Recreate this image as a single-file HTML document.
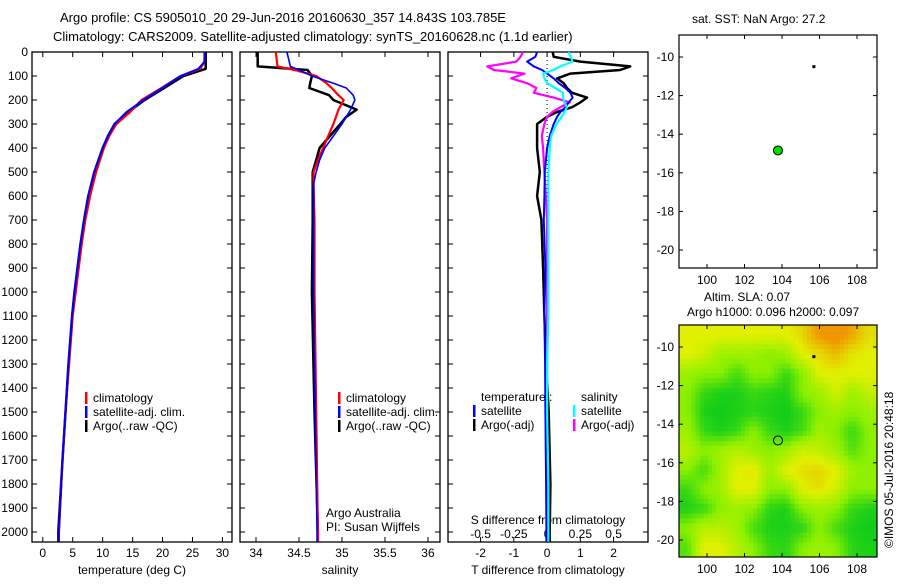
<!DOCTYPE html>
<html><head><meta charset="utf-8"><style>
body{margin:0;background:#fff;width:900px;height:580px;overflow:hidden}
svg text{font-family:"Liberation Sans",sans-serif;font-size:12px;fill:#000}
</style></head><body>
<svg id="c" width="900" height="580" xmlns="http://www.w3.org/2000/svg">
<text x="60" y="22" style="font-size:13px">Argo profile: CS 5905010_20 29-Jun-2016 20160630_357 14.843S 103.785E</text>
<text x="53" y="41" style="font-size:13px">Climatology: CARS2009. Satellite-adjusted climatology: synTS_20160628.nc (1.1d earlier)</text>
<text x="692" y="23">sat. SST: NaN Argo: 27.2</text>
<text x="704" y="301">Altim. SLA: 0.07</text>
<text x="687" y="316">Argo h1000: 0.096 h2000: 0.097</text>
<text transform="translate(893,548) rotate(-90)">©IMOS 05-Jul-2016 20:48:18</text>
</svg>
<script>
// ---- data ----
const depthTicks=[0,100,200,300,400,500,600,700,800,900,1000,1100,1200,1300,1400,1500,1600,1700,1800,1900,2000];
const tempTicks=[0,5,10,15,20,25,30];
const salTicks=[34,34.5,35,35.5,36];
const tdiffTicks=[-2,-1,0,1,2];
const sdiffTicks=[-0.5,-0.25,0,0.25,0.5];
const sdiffTickLabels=["-0.5","-0.25","0","0.25","0.5"];
const lonTicks=[100,102,104,106,108];
const latTicks=[-10,-12,-14,-16,-18,-20];
const tDepth=[0,40,70,100,150,200,250,300,350,400,500,600,700,800,900,1000,1100,1300,1500,1700,2000,2040];
const tArgo=[27.2,27.2,27.2,23.5,20.3,17.0,14.3,12.0,10.9,10.0,8.6,7.6,6.9,6.3,5.8,5.3,4.9,4.3,3.8,3.3,2.6,2.6];
const tClim=[27.0,27.0,26.3,23.0,19.8,16.5,14.6,12.3,11.1,10.2,8.9,7.9,7.1,6.5,6.0,5.5,5.0,4.4,3.8,3.3,2.7,2.7];
const tSat=[27.0,27.0,26.0,23.0,20.0,16.8,14.0,12.0,10.9,10.0,8.6,7.6,6.9,6.3,5.8,5.3,4.9,4.3,3.8,3.3,2.7,2.7];
const sDepth=[0,60,75,100,130,150,180,200,240,270,300,350,400,450,500,550,700,1000,1500,2000,2040];
const sArgo=[34.02,34.02,34.6,34.65,34.63,34.62,34.85,34.9,35.17,35.05,34.98,34.86,34.74,34.7,34.66,34.66,34.66,34.65,34.68,34.72,34.72];
const sClim=[34.23,34.25,34.45,34.7,34.82,34.88,34.96,35.02,34.96,34.93,34.9,34.84,34.78,34.72,34.67,34.67,34.68,34.68,34.7,34.72,34.72];
const sSat=[34.36,34.4,34.5,34.65,34.9,35.05,35.13,35.15,35.1,35.05,35.0,34.9,34.8,34.74,34.7,34.67,34.67,34.67,34.69,34.71,34.71];
const dDepth=[0,20,40,60,75,90,110,130,150,170,190,210,230,250,270,300,350,400,500,600,700,900,1100,1300,1500,1800,2000,2040];
const dTArgo=[0.17,0.2,1.0,2.5,2.2,0.7,0.3,0.5,0.6,0.75,1.2,1.0,0.75,0.3,0.0,-0.3,-0.3,-0.3,-0.22,-0.3,-0.17,-0.12,-0.08,-0.03,0.05,0.1,0.08,0.08];
const dTSat=[-0.3,-0.35,-0.6,-0.4,-0.15,0.0,0.2,0.35,0.55,0.7,0.77,0.65,0.55,0.4,0.3,0.2,0.08,0.0,-0.07,-0.08,-0.1,-0.05,-0.08,-0.06,-0.05,-0.03,-0.02,-0.02];
const dSSat=[0.16,0.18,0.19,0.1,0.05,-0.03,-0.02,0.0,0.06,0.12,0.12,0.13,0.15,0.13,0.11,0.07,0.03,0.02,0.01,0.01,0.01,0.01,0.01,0.0,0.0,0.01,0.01,0.01];
const dSArgo=[-0.18,-0.2,-0.23,-0.45,-0.4,-0.17,-0.27,-0.15,-0.08,-0.1,0.05,0.17,0.1,0.04,0.0,-0.02,-0.04,-0.03,-0.02,-0.01,0.0,0.0,0.0,0.0,0.0,0.0,0.0,0.0];
const floatLon=[103.785];
const floatLat=[-14.843];
const markLon=[105.7];
const markLat=[-10.5];
const slaGrid=[
[2,2,2,2,2,2,2,2.3,3,3.2,2.8,2.2],
[2,1.8,1.2,1.2,1.2,1,1.2,2,2.2,2.6,2.1,2],
[1.2,1,1,0.5,1,1,0.4,1,2,2,2,2],
[1,0.4,0.2,0.2,0.4,0.3,0.2,1,1.2,1.8,1.2,1.6],
[1,0.2,0.1,0.2,0.3,0.2,0.1,0.4,1,1.2,1,1.2],
[1.2,0.4,0.2,0.4,1,0.4,0.2,0.5,1.2,1,0.4,1],
[1.5,1,1.2,1.5,1.2,1,1.2,1.8,1.6,1.2,0.6,1],
[1,0.5,1.2,2,2.1,1.2,2,2.2,2.3,2,1.2,1],
[0.4,1,1.2,2,2,1,1,2,2.2,1.8,1,1],
[0.2,0.4,1,1.2,1,0.3,0.2,1,1.2,1,0.4,0.2],
[1,1.5,1.5,1.2,0.5,0.2,0.2,0.3,1,0.5,0.2,0.1],
[0.6,2,2,1.5,1,0.4,0.3,1,1.2,1,0.3,0.2]];

const NS="http://www.w3.org/2000/svg";
const svg=document.getElementById('c');
function mk(tag,attrs,parent){const e=document.createElementNS(NS,tag);for(const k in attrs)e.setAttribute(k,attrs[k]);(parent||svg).appendChild(e);return e;}
function txt(x,y,s,anchor,parent){const t=mk('text',{x:x,y:y,'text-anchor':anchor||'start'},parent);t.textContent=s;return t;}

const Y0=52,YPX=0.24;
const yD=d=>Y0+d*YPX;
const panels=[{x0:32,x1:232,v0:-1.8,v1:31.6,name:'temperature'},{x0:240,x1:440,v0:33.814,v1:36.14,name:'salinity'},{x0:448,x1:648,v0:-2.98,v1:3.035,name:'difference'}];
function xs(p,v){return p.x0+(v-p.v0)/(p.v1-p.v0)*(p.x1-p.x0);}
panels.forEach((p,i)=>{
  const g=mk('g',{});
  
  
  const r=mk('rect',{x:p.x0,y:Y0,width:p.x1-p.x0,height:490,fill:'none',stroke:'#000','stroke-width':1.3},g);
  
  
  depthTicks.forEach(d=>{
    mk('line',{x1:p.x0,x2:p.x0+5,y1:yD(d),y2:yD(d),stroke:'#000'},g);
    mk('line',{x1:p.x1,x2:p.x1-5,y1:yD(d),y2:yD(d),stroke:'#000'},g);
    if(i==0){const t=txt(28,yD(d)+4,String(d),'end',g);
      
      }
  });
});
function xticks(p,ticks,labels,ly,top){
  ticks.forEach((v,k)=>{const x=xs(p,v);
    mk('line',{x1:x,x2:x,y1:542,y2:537,stroke:'#000'});
    if(top) mk('line',{x1:x,x2:x,y1:52,y2:57,stroke:'#000'});
    const t=txt(x,ly,labels?labels[k]:String(v),'middle');
    
    });
}
xticks(panels[0],tempTicks,null,557,true);
xticks(panels[1],salTicks,null,557,true);
xticks(panels[2],tdiffTicks,null,557,false);
const x0d=xs(panels[2],0);
sdiffTicks.forEach((v,k)=>{const x=x0d+v*133;
  mk('line',{x1:x,x2:x,y1:52,y2:57,stroke:'#000'});
  const t=txt(x,538,sdiffTickLabels[k],'middle');
  
  });
let t;
t=txt(132,574,'temperature (deg C)','middle');
t=txt(340,574,'salinity','middle');
t=txt(548,574,'T difference from climatology','middle');
t=txt(548,524,'S difference from climatology','middle');
t=txt(326,517,'Argo Australia');
t=txt(326,531,'PI: Susan Wijffels');
const zl=mk('line',{x1:x0d,x2:x0d,y1:52,y2:542,stroke:'#000','stroke-dasharray':'1,3'});


function series(p,vals,depths,color,w,name,scale){
  const pts=vals.map((v,k)=>{const x=scale?x0d+v*scale:xs(p,v);return x.toFixed(1)+','+yD(depths[k]).toFixed(1);}).join(' ');
  const l=mk('polyline',{points:pts,fill:'none',stroke:color,'stroke-width':w,'stroke-linejoin':'round'});
  
  
}
series(panels[0],tArgo,tDepth,'#000',2.5,'temp-argo-line');
series(panels[0],tClim,tDepth,'#f00',2.2,'temp-clim-line');
series(panels[0],tSat,tDepth,'#00f',2,'temp-sat-line');
series(panels[1],sArgo,sDepth,'#000',2.5,'sal-argo-line');
series(panels[1],sClim,sDepth,'#f00',2.2,'sal-clim-line');
series(panels[1],sSat,sDepth,'#00f',1.6,'sal-sat-line');
series(panels[2],dTArgo,dDepth,'#000',2.5,'tdiff-argo-line');
series(panels[2],dSArgo,dDepth,'#f0f',2.2,'sdiff-argo-line',133);
series(panels[2],dTSat,dDepth,'#00f',2,'tdiff-sat-line');
series(panels[2],dSSat,dDepth,'#0ff',2.2,'sdiff-sat-line',133);

function legend(x,y,color,label,name){
  const g=mk('g',{});
  
  
  mk('rect',{x:x,y:y-10,width:2.5,height:12,fill:color},g);
  txt(x+8,y,label,'start',g);
}
[[32+53,0],[240+98,1]].forEach(([x,i])=>{
  legend(x,402,'#f00','climatology','legend-climatology');
  legend(x,416,'#00f','satellite-adj. clim.','legend-satellite-adj');
  legend(x,430,'#000','Argo(..raw -QC)','legend-argo');
});
t=txt(481,401,'temperature :');
t=txt(581,401,'salinity');
legend(473,415,'#00f','satellite','legend-t-satellite');
legend(473,429,'#000','Argo(-adj)','legend-t-argo');
legend(573,415,'#0ff','satellite','legend-s-satellite');
legend(573,429,'#f0f','Argo(-adj)','legend-s-argo');

const maps=[{y0:35,y1:268,name:'sst-map'},{y0:325,y1:557,name:'sla-map'}];
const MX0=679,MX1=877;
const lonX=v=>707+(v-100)*18.75;
maps.forEach((m,mi)=>{
  const latY=v=>m.y0+22+(-10-v)*19.3;
  const g=mk('g',{});
  
  
  if(mi==1){
    const rows=slaGrid.length,cols=slaGrid[0].length,S=4;
    const R=rows*S,C=cols*S,cw=(MX1-MX0)/C,ch=(m.y1-m.y0)/R;
    const stops=[[0,200,30],[140,240,0],[225,240,0],[240,150,0]];
    const col=v=>{v=Math.max(0,Math.min(2.999,v));const i=Math.floor(v),f=v-i;const a=stops[i],b=stops[i+1];return 'rgb('+a.map((c,k)=>Math.round(c+(b[k]-c)*f)).join(',')+')';};
    const samp=(r,c)=>{ // bilinear
      const fr=Math.max(0,Math.min(rows-1,(r+0.5)/S-0.5)),fc=Math.max(0,Math.min(cols-1,(c+0.5)/S-0.5));
      const r0=Math.floor(fr),c0=Math.floor(fc),r1=Math.min(rows-1,r0+1),c1=Math.min(cols-1,c0+1),a=fr-r0,b=fc-c0;
      return slaGrid[r0][c0]*(1-a)*(1-b)+slaGrid[r0][c1]*(1-a)*b+slaGrid[r1][c0]*a*(1-b)+slaGrid[r1][c1]*a*b;};
    for(let r=0;r<R;r++)for(let c=0;c<C;c++){
      const cell=mk('rect',{x:MX0+c*cw,y:m.y0+r*ch,width:cw+0.4,height:ch+0.4,fill:col(samp(r,c))},g);
      
      
    }
  }
  mk('rect',{x:MX0,y:m.y0,width:MX1-MX0,height:m.y1-m.y0,fill:'none',stroke:'#000','stroke-width':1.2},g);
  lonTicks.forEach(v=>{const x=lonX(v);
    mk('line',{x1:x,x2:x,y1:m.y0,y2:m.y0+4,stroke:'#000'},g);
    mk('line',{x1:x,x2:x,y1:m.y1,y2:m.y1-4,stroke:'#000'},g);
    const tt=txt(x,m.y1+16,String(v),'middle',g);
    
    });
  latTicks.forEach(v=>{const y=latY(v);
    mk('line',{x1:MX0,x2:MX0+4,y1:y,y2:y,stroke:'#000'},g);
    mk('line',{x1:MX1,x2:MX1-4,y1:y,y2:y,stroke:'#000'},g);
    const tt=txt(MX0-5,y+4,String(v),'end',g);
    
    });
  const fp=mk('circle',{cx:lonX(floatLon[0]),cy:latY(floatLat[0]),r:4.5,fill:mi==0?'#0d0':'none',stroke:'#000','stroke-width':1},g);
  
  
  const mk2=mk('rect',{x:lonX(markLon[0])-1.5,y:latY(markLat[0])-1.5,width:3,height:3,fill:'#000'},g);
  
  
});
</script>
</body></html>
